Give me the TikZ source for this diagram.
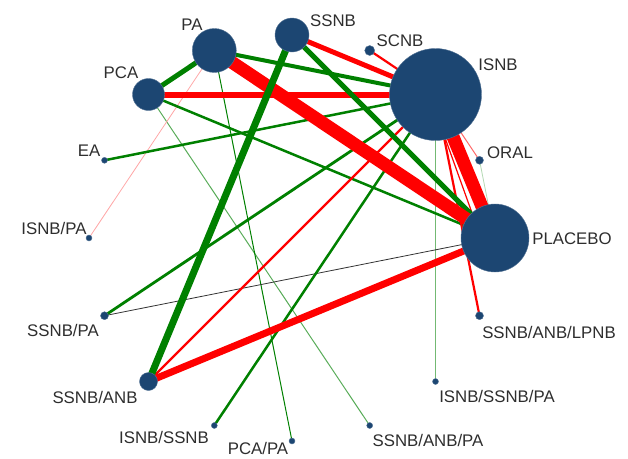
\documentclass[tikz,border=0pt]{standalone}
\usepackage{fontspec}
\setmainfont{Liberation Sans}
\usetikzlibrary{backgrounds}
\definecolor{nb}{HTML}{1C4672}
\definecolor{eg}{HTML}{008000}
\definecolor{er}{HTML}{FF0000}
\begin{document}
\begin{tikzpicture}[x=1pt,y=-1pt,
  nd/.style={circle,fill=nb,draw=nb!75!white,line width=0.4pt,inner sep=0pt,minimum size=#1},
  lbl/.style={font=\fontsize{16.8}{17}\selectfont,text=black!82,inner sep=0pt},
  gE/.style={draw=eg,line width=#1},
  rE/.style={draw=er,line width=#1},
]
\useasboundingbox (0,0) rectangle (628,458);
% nodes
\node[nd=34pt] (SSNB) at (292,35) {};
\node[nd=44pt] (PA) at (214.3,50.5) {};
\node[nd=32pt] (PCA) at (148.5,94.5) {};
\node[nd=6pt] (EA) at (104.5,160.3) {};
\node[nd=6pt] (ISNBPA) at (89,238) {};
\node[nd=8pt] (SSNBPA) at (104.5,315.7) {};
\node[nd=18pt] (SSNBANB) at (148.5,381.5) {};
\node[nd=6pt] (ISNBSSNB) at (214.3,425.5) {};
\node[nd=6pt] (PCAPA) at (292,441) {};
\node[nd=6pt] (SSNBANBPA) at (369.7,425.5) {};
\node[nd=6pt] (ISNBSSNBPA) at (435.5,381.5) {};
\node[nd=8pt] (SSNBANBLPNB) at (479.5,315.7) {};
\node[nd=68pt] (PLACEBO) at (495,238) {};
\node[nd=8pt] (ORAL) at (479.5,160.3) {};
\node[nd=92pt] (ISNB) at (435.5,94.5) {};
\node[nd=10pt] (SCNB) at (369.7,50.5) {};
% labels
\node[lbl] (lSSNB) at (333,21) {SSNB};
\node[lbl] (lPA) at (192,25) {PA};
\node[lbl] (lPCA) at (121,73) {PCA};
\node[lbl] (lEA) at (89,151) {EA};
\node[lbl] (lISNBPA) at (54,228) {ISNB/PA};
\node[lbl] (lSSNBPA) at (63,330) {SSNB/PA};
\node[lbl] (lSSNBANB) at (95,397) {SSNB/ANB};
\node[lbl] (lISNBSSNB) at (164,437) {ISNB/SSNB};
\node[lbl,anchor=south] (lPCAPA) at (258,455) {PCA/PA};
\node[lbl] (lSSNBANBPA) at (428,440) {SSNB/ANB/PA};
\node[lbl] (lISNBSSNBPA) at (497,396) {ISNB/SSNB/PA};
\node[lbl] (lSSNBANBLPNB) at (549,332) {SSNB/ANB/LPNB};
\node[lbl] (lPLACEBO) at (572,239) {PLACEBO};
\node[lbl] (lORAL) at (510,153) {ORAL};
\node[lbl] (lISNB) at (498,65) {ISNB};
\node[lbl] (lSCNB) at (400,41) {SCNB};
% edges
\begin{scope}[on background layer]
\draw[draw=eg!65,line width=1pt] (PCA.center) -- (SSNBANBPA.center);
\draw[gE=1pt] (PA.center) -- (PCAPA.center);
\draw[draw=er!35,line width=0.8pt] (PA.center) -- (ISNBPA.center);
\draw[draw=eg!55,line width=1pt] (ISNB.center) -- (ISNBSSNBPA.center);
\draw[draw=black!80,line width=0.8pt] (SSNBPA.center) -- (PLACEBO.center);
\draw[draw=er!60,line width=1pt] (ISNB.center) -- (ORAL.center);
\draw[draw=eg!30,line width=0.8pt] (ORAL.center) -- (PLACEBO.center);
\draw[gE=2.5pt] (EA.center) -- (ISNB.center);
\draw[gE=2.5pt] (PCA.center) -- (PLACEBO.center);
\draw[gE=2.8pt] (SSNBPA.center) -- (ISNB.center);
\draw[gE=2.5pt] (ISNBSSNB.center) -- (ISNB.center);
\draw[rE=2.2pt] (SSNBANB.center) -- (ISNB.center);
\draw[rE=2.2pt] (SCNB.center) -- (ISNB.center);
\draw[rE=2.2pt] (ISNB.center) -- (SSNBANBLPNB.center);
\draw[rE=1.2pt] ([xshift=-6pt]ISNB.center) -- ([xshift=-14pt]PLACEBO.center);
\draw[rE=7pt] (SSNBANB.center) -- (PLACEBO.center);
\draw[rE=6pt] (PCA.center) -- (ISNB.center);
\draw[rE=5pt] (SSNB.center) -- (ISNB.center);
\draw[gE=5pt] (PA.center) -- (PCA.center);
\draw[gE=4pt] (PA.center) -- (ISNB.center);
\draw[gE=5pt] (SSNB.center) -- (PLACEBO.center);
\draw[rE=13pt] (PA.center) -- (PLACEBO.center);
\draw[rE=13pt] (ISNB.center) -- (PLACEBO.center);
\draw[gE=7pt] (SSNB.center) -- (SSNBANB.center);
\end{scope}
\end{tikzpicture}
\end{document}
